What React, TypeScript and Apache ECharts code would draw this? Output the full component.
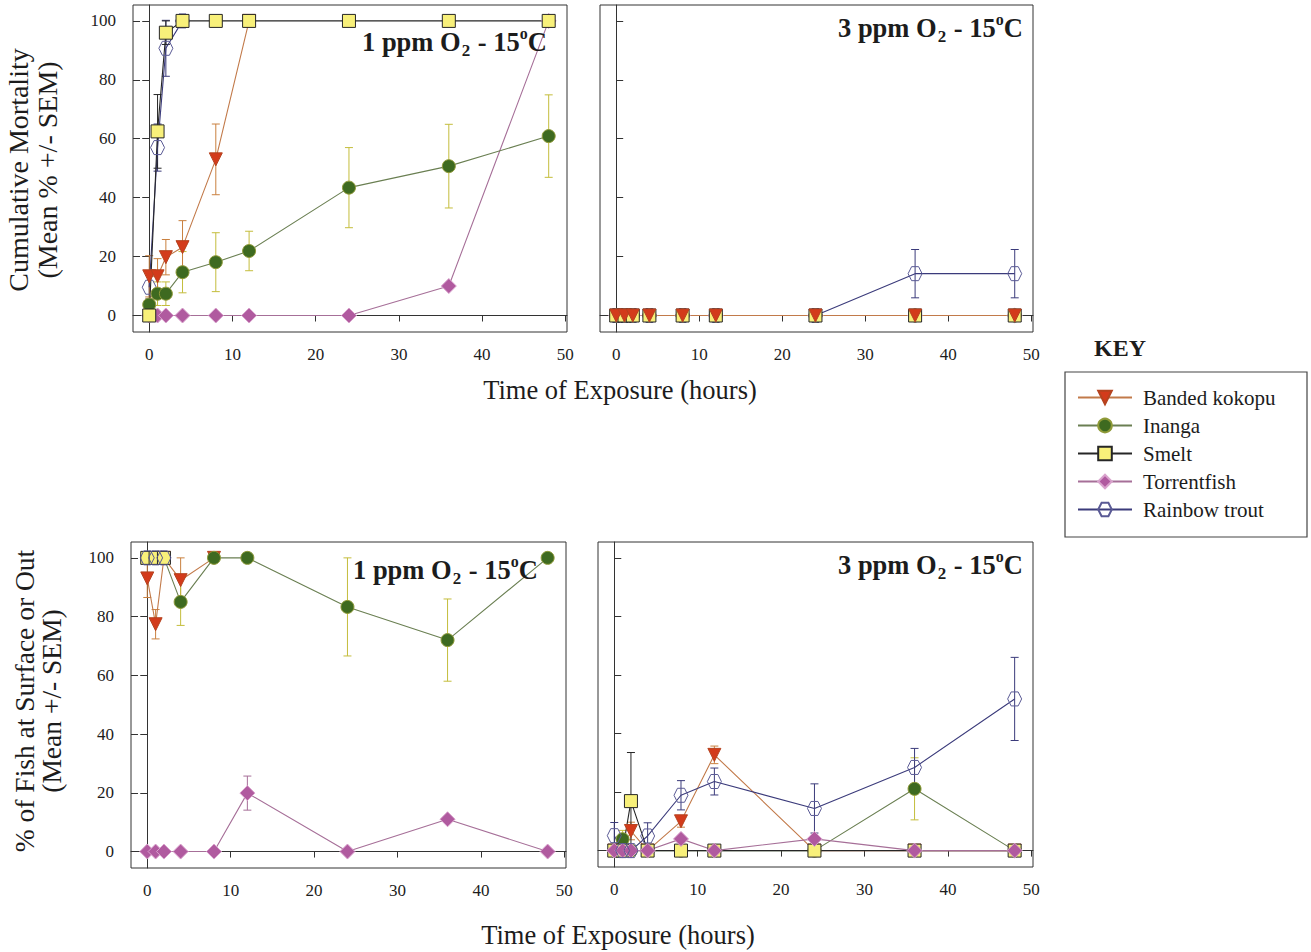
import React, { useEffect, useRef } from "react";
import * as echarts from "echarts";

// ---------- data ----------
const hours = [0, 1, 2, 4, 8, 12, 24, 36, 48];
const speciesNames = ["Banded kokopu", "Inanga", "Smelt", "Torrentfish", "Rainbow trout"];
const xTicks = [0, 10, 20, 30, 40, 50];
const yTicks = [0, 20, 40, 60, 80, 100];

// Panel A: cumulative mortality, 1 ppm O2
const mortLowKokopu = [13.3, 13.3, 19.8, 23.2, 53, 100];
const mortLowKokopuSem = [7, 6, 6, 9, 12, 0];
const mortLowInanga = [3.7, 7.4, 7.4, 14.7, 18.1, 21.9, 43.4, 50.7, 60.9];
const mortLowInangaSem = [0, 4, 4, 7, 10, 6.7, 13.6, 14.2, 14];
const mortLowSmelt = [0, 62.5, 96, 100, 100, 100, 100, 100, 100];
const mortLowSmeltSem = [0, 12.5, 4, 0, 0, 0, 0, 0, 0];
const mortLowTorrent = [0, 0, 0, 0, 0, 0, 0, 10, 100];
const mortLowTrout = [9.6, 57, 90.7, 100];
const mortLowTroutSem = [4, 8, 9.5, 0];

// Panel B: cumulative mortality, 3 ppm O2
const mortHighKokopu = [0, 0, 0, 0, 0, 0, 0, 0, 0];
const mortHighInanga = [0, 0, 0, 0, 0, 0, 0, 0, 0];
const mortHighSmelt = [0, 0, 0, 0, 0, 0, 0, 0, 0];
const mortHighTorrent = [0, 0, 0, 0, 0, 0, 0, 0, 0];
const mortHighTrout = [0, 0, 0, 0, 0, 0, 0, 14.2, 14.2];
const mortHighTroutSem = [0, 0, 0, 0, 0, 0, 0, 8.2, 8.2];

// Panel C: % at surface or out, 1 ppm O2
const surfLowKokopu = [93, 77.4, 100, 92.4, 100];
const surfLowKokopuSem = [6.5, 5, 0, 7.6, 0];
const surfLowInanga = [100, 100, 100, 85, 100, 100, 83.3, 72, 100];
const surfLowInangaSem = [0, 0, 0, 8, 0, 0, 16.7, 14, 0];
const surfLowSmelt = [100, 100, 100];
const surfLowTorrent = [0, 0, 0, 0, 0, 19.9, 0, 11, 0];
const surfLowTorrentSem = [0, 0, 0, 0, 0, 5.8, 0, 0, 0];
const surfLowTrout = [100, 100, 100];

// Panel D: % at surface or out, 3 ppm O2
const surfHighKokopu = [0, 0, 6.7, 0, 10, 32.7, 0, 0, 0];
const surfHighKokopuSem = [0, 0, 3, 0, 2, 3, 0, 0, 0];
const surfHighInanga = [0, 3.9, 0, 0, 0, 0, 0, 21.1, 0];
const surfHighInangaSem = [0, 3, 0, 0, 0, 0, 0, 10.6, 0];
const surfHighSmelt = [0, 0, 16.9, 0, 0, 0, 0, 0, 0];
const surfHighSmeltSem = [0, 0, 16.6, 0, 0, 0, 0, 0, 0];
const surfHighTorrent = [0, 0, 0, 0, 4, 0, 4, 0, 0];
const surfHighTrout = [5.1, 0, 0, 5, 18.9, 23.6, 14.4, 28.4, 51.8];
const surfHighTroutSem = [4.5, 0, 0, 4.5, 5, 4.6, 8.4, 6.5, 14.2];

// ---------- styles / layout ----------
const FONT = '"Liberation Serif", "Times New Roman", serif';
const HEX = "path://M25,0 L75,0 L100,50 L75,100 L25,100 L0,50 Z";

const styles: Record<string, any> = {
  "Banded kokopu": { symbol: "triangle", rotate: 180, size: 13, fill: "#d33b1b", border: "#b5431f", line: "#c27a4a", err: "#c9803f" },
  Inanga: { symbol: "circle", rotate: 0, size: 13, fill: "#3e6a20", border: "#8f9a38", line: "#6a7f52", err: "#c4bd3c" },
  Smelt: { symbol: "rect", rotate: 0, size: 13, fill: "#f8f07a", border: "#262626", line: "#262626", err: "#262626" },
  Torrentfish: { symbol: "diamond", rotate: 0, size: 15, fill: "#b05a9f", border: "#d9a3cd", line: "#a66f98", err: "#a66f98" },
  "Rainbow trout": { symbol: HEX, rotate: 0, size: 14, fill: "rgba(255,255,255,0)", border: "#5a5a95", line: "#3b3b7b", err: "#3b3b7b" },
};

const panels = [
  {
    grid: { left: 133, top: 5, width: 434, height: 327 },
    yLabels: true,
    order: ["Rainbow trout", "Torrentfish", "Inanga", "Banded kokopu", "Smelt"],
    series: {
      "Banded kokopu": [mortLowKokopu, mortLowKokopuSem],
      Inanga: [mortLowInanga, mortLowInangaSem],
      Smelt: [mortLowSmelt, mortLowSmeltSem],
      Torrentfish: [mortLowTorrent, null],
      "Rainbow trout": [mortLowTrout, mortLowTroutSem],
    },
    title: { ppm: "1", x: 362, y: 42 },
  },
  {
    grid: { left: 600, top: 5, width: 433, height: 327 },
    yLabels: false,
    order: ["Rainbow trout", "Torrentfish", "Inanga", "Smelt", "Banded kokopu"],
    series: {
      "Banded kokopu": [mortHighKokopu, null],
      Inanga: [mortHighInanga, null],
      Smelt: [mortHighSmelt, null],
      Torrentfish: [mortHighTorrent, null],
      "Rainbow trout": [mortHighTrout, mortHighTroutSem],
    },
    title: { ppm: "3", x: 838, y: 28 },
  },
  {
    grid: { left: 131, top: 542, width: 435, height: 326 },
    yLabels: true,
    order: ["Banded kokopu", "Inanga", "Smelt", "Rainbow trout", "Torrentfish"],
    series: {
      "Banded kokopu": [surfLowKokopu, surfLowKokopuSem],
      Inanga: [surfLowInanga, surfLowInangaSem],
      Smelt: [surfLowSmelt, null],
      Torrentfish: [surfLowTorrent, surfLowTorrentSem],
      "Rainbow trout": [surfLowTrout, null],
    },
    title: { ppm: "1", x: 353, y: 570 },
  },
  {
    grid: { left: 598, top: 542, width: 435, height: 325 },
    yLabels: false,
    order: ["Banded kokopu", "Inanga", "Smelt", "Torrentfish", "Rainbow trout"],
    series: {
      "Banded kokopu": [surfHighKokopu, surfHighKokopuSem],
      Inanga: [surfHighInanga, surfHighInangaSem],
      Smelt: [surfHighSmelt, surfHighSmeltSem],
      Torrentfish: [surfHighTorrent, null],
      "Rainbow trout": [surfHighTrout, surfHighTroutSem],
    },
    title: { ppm: "3", x: 838, y: 565 },
  },
];

const X_MIN = -1.95;
const X_MAX = 50.2;
const Y_MIN = -5.6;
const Y_MAX = 105.4;
const AXIS_COLOR = "#333";
const TEXT_COLOR = "#1c1c1c";

function buildOption() {
  const grid: any[] = [];
  const xAxis: any[] = [];
  const yAxis: any[] = [];
  const series: any[] = [];
  const graphic: any[] = [];

  panels.forEach((p, i) => {
    grid.push({ ...p.grid, show: true, borderColor: AXIS_COLOR, borderWidth: 1, backgroundColor: "transparent", containLabel: false });
    xAxis.push({
      type: "value",
      gridIndex: i,
      min: X_MIN,
      max: X_MAX,
      axisLine: { show: true, lineStyle: { color: AXIS_COLOR, width: 1 } },
      axisTick: { show: true, inside: false, length: 6, customValues: xTicks, lineStyle: { color: AXIS_COLOR } },
      axisLabel: { show: true, customValues: xTicks, margin: 14, fontFamily: FONT, fontSize: 17, color: TEXT_COLOR, formatter: (v: number) => String(Math.round(v)) },
      splitLine: { show: false },
    });
    yAxis.push({
      type: "value",
      gridIndex: i,
      min: Y_MIN,
      max: Y_MAX,
      axisLine: { show: true, lineStyle: { color: AXIS_COLOR, width: 1 } },
      axisTick: { show: true, inside: !p.yLabels, length: 7, customValues: yTicks, lineStyle: { color: AXIS_COLOR } },
      axisLabel: { show: p.yLabels, customValues: yTicks, margin: 17, fontFamily: FONT, fontSize: 17, color: TEXT_COLOR, formatter: (v: number) => String(Math.round(v)) },
      splitLine: { show: false },
    });
  });
  // inner half of the crossing ticks on the left-hand panels
  panels.forEach((p, i) => {
    if (!p.yLabels) return;
    yAxis.push({
      type: "value",
      gridIndex: i,
      min: Y_MIN,
      max: Y_MAX,
      position: "left",
      axisLine: { show: false },
      axisTick: { show: true, inside: true, length: 7, customValues: yTicks, lineStyle: { color: AXIS_COLOR } },
      axisLabel: { show: false },
      splitLine: { show: false },
    });
  });

  panels.forEach((p, i) => {
    // error bars first (below markers)
    p.order.forEach((name) => {
      const st = styles[name];
      const [vals, sem] = (p.series as any)[name];
      if (!sem) return;
      const data = (sem as number[])
        .map((e, k) => [hours[k], vals[k], e])
        .filter((d) => d[2] > 0);
      series.push({
        type: "custom",
        name: name + " SEM",
        xAxisIndex: i,
        yAxisIndex: i,
        silent: true,
        z: 1,
        data,
        renderItem: (_params: any, api: any) => {
          const x = api.value(0);
          const y = api.value(1);
          const e = api.value(2);
          const top = api.coord([x, y + e]);
          const bot = api.coord([x, y - e]);
          const w = 4;
          const s = { stroke: st.err, lineWidth: 1 };
          return {
            type: "group",
            children: [
              { type: "line", shape: { x1: top[0], y1: top[1], x2: bot[0], y2: bot[1] }, style: s },
              { type: "line", shape: { x1: top[0] - w, y1: top[1], x2: top[0] + w, y2: top[1] }, style: s },
              { type: "line", shape: { x1: bot[0] - w, y1: bot[1], x2: bot[0] + w, y2: bot[1] }, style: s },
            ],
          };
        },
      });
    });
    p.order.forEach((name) => {
      const st = styles[name];
      const [vals] = (p.series as any)[name];
      series.push({
        type: "line",
        name,
        xAxisIndex: i,
        yAxisIndex: i,
        z: 2,
        data: (vals as number[]).map((v, k) => [hours[k], v]),
        symbol: st.symbol,
        symbolSize: st.size,
        symbolRotate: st.rotate,
        showAllSymbol: true,
        lineStyle: { color: st.line, width: 1.1 },
        itemStyle: { color: st.fill, borderColor: st.border, borderWidth: 1 },
        emphasis: { disabled: true },
      });
    });

    // panel title with subscript / superscript
    graphic.push({
      type: "text",
      x: p.title.x,
      y: p.title.y,
      z: 10,
      style: {
        text: `{m|${p.title.ppm} ppm O}{s|2}{m| - 15}{o|o}{m|C}`,
        align: "left",
        verticalAlign: "middle",
        rich: {
          m: { fontFamily: FONT, fontSize: 26.5, fontWeight: "bold", fill: TEXT_COLOR, lineHeight: 34, verticalAlign: "middle" },
          s: { fontFamily: FONT, fontSize: 17, fontWeight: "bold", fill: TEXT_COLOR, verticalAlign: "bottom", padding: [0, 1, 0, 1] },
          o: { fontFamily: FONT, fontSize: 16, fontWeight: "bold", fill: TEXT_COLOR, verticalAlign: "top" },
        },
      },
    });
  });

  // axis titles
  graphic.push(
    {
      type: "text",
      x: 33,
      y: 170,
      rotation: Math.PI / 2,
      style: { text: "Cumulative Mortality\n(Mean % +/- SEM)", fontFamily: FONT, fontSize: 28, lineHeight: 29, fill: TEXT_COLOR, align: "center", verticalAlign: "middle" },
    },
    {
      type: "text",
      x: 38,
      y: 701,
      rotation: Math.PI / 2,
      style: { text: "% of Fish at Surface or Out\n(Mean +/- SEM)", fontFamily: FONT, fontSize: 27.5, lineHeight: 27, fill: TEXT_COLOR, align: "center", verticalAlign: "middle" },
    },
    {
      type: "text",
      x: 620,
      y: 390,
      style: { text: "Time of Exposure (hours)", fontFamily: FONT, fontSize: 26.5, fill: TEXT_COLOR, align: "center", verticalAlign: "middle" },
    },
    {
      type: "text",
      x: 618,
      y: 935,
      style: { text: "Time of Exposure (hours)", fontFamily: FONT, fontSize: 26.5, fill: TEXT_COLOR, align: "center", verticalAlign: "middle" },
    },
    {
      type: "text",
      x: 1120,
      y: 348,
      style: { text: "KEY", fontFamily: FONT, fontSize: 24, fontWeight: "bold", fill: TEXT_COLOR, align: "center", verticalAlign: "middle" },
    },
    {
      type: "rect",
      shape: { x: 1065, y: 372, width: 242, height: 165 },
      style: { fill: "none", stroke: "#444", lineWidth: 1.2 },
    }
  );

  return {
    animation: false,
    backgroundColor: "#ffffff",
    grid,
    xAxis,
    yAxis,
    series,
    graphic,
    legend: {
      data: speciesNames,
      orient: "vertical",
      left: 1077,
      top: 387,
      padding: 0,
      itemWidth: 54,
      itemHeight: 17,
      itemGap: 7,
      selectedMode: false,
      textStyle: { fontFamily: FONT, fontSize: 21, color: TEXT_COLOR, lineHeight: 21, padding: [0, 0, 0, 6] },
    },
  };
}

export default function App() {
  const ref = useRef<HTMLDivElement>(null);
  useEffect(() => {
    document.body.style.margin = "0";
    if (!ref.current) return;
    const chart = echarts.init(ref.current, undefined, { renderer: "svg" });
    chart.setOption(buildOption() as any);
    return () => chart.dispose();
  }, []);
  return <div ref={ref} style={{ width: 1311, height: 952, background: "#fff" }} />;
}
